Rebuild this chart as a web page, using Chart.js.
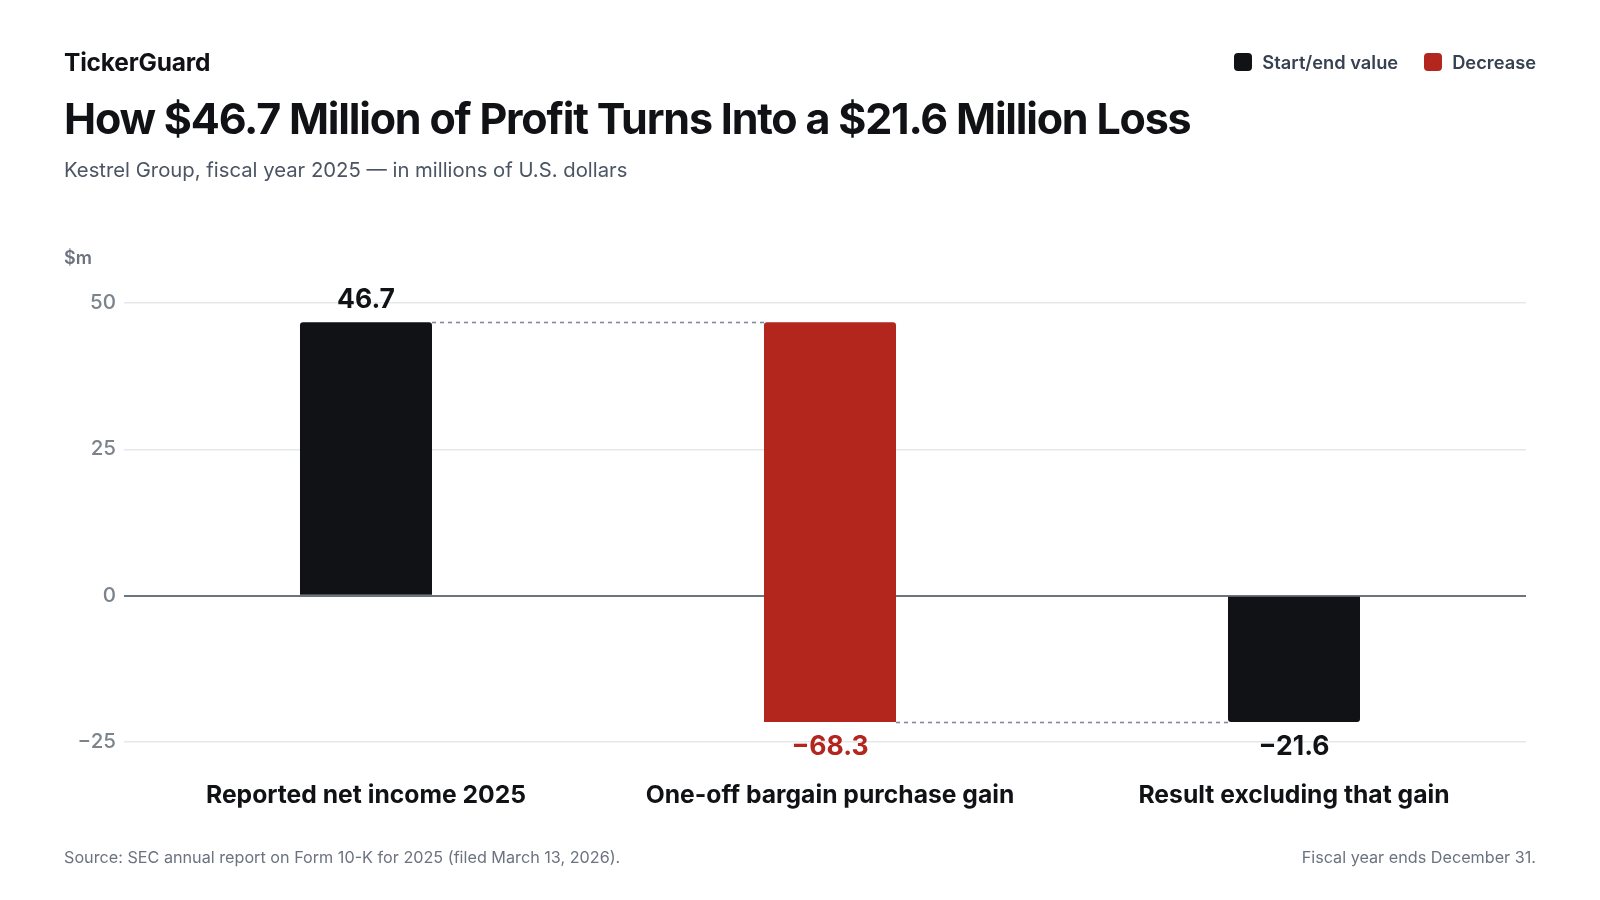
<!DOCTYPE html>
<html>
<head>
<meta charset="utf-8">
<script src="https://cdn.jsdelivr.net/npm/chart.js@4.4.1/dist/chart.umd.min.js"></script>
<style>
  html, body { margin: 0; padding: 0; background: #fff; }
  body { width: 1600px; height: 900px; position: relative; overflow: hidden; font-family: Inter, "Noto Sans", sans-serif; }
  #chartWrap { position: absolute; left: 0; top: 0; width: 1600px; height: 900px; }
  .brand { position: absolute; left: 64px; top: 47px; font-size: 24.5px; font-weight: 700; color: #111216; letter-spacing: -0.2px; }
  .title { position: absolute; left: 64px; top: 92px; font-size: 43px; font-weight: 700; color: #111216; letter-spacing: -1.2px; }
  .subtitle { position: absolute; left: 64px; top: 157px; font-size: 20.3px; color: #4b5563; }
  .unit { position: absolute; left: 64px; top: 247px; font-size: 18px; font-weight: 600; color: #6b7280; }
  .legend { position: absolute; right: 64px; top: 51px; display: flex; gap: 26px; font-size: 18.3px; font-weight: 600; color: #374151; }
  .legend span { display: flex; align-items: center; gap: 10px; }
  .legend i { width: 18px; height: 18px; border-radius: 4px; display: inline-block; }
  .footer { position: absolute; top: 847px; font-size: 16.2px; color: #6b7280; }
</style>
</head>
<body>
<div id="chartWrap"><canvas id="waterfall"></canvas></div>
<div class="brand">TickerGuard</div>
<div class="title">How $46.7 Million of Profit Turns Into a $21.6 Million Loss</div>
<div class="subtitle">Kestrel Group, fiscal year 2025 — in millions of U.S. dollars</div>
<div class="unit">$m</div>
<div class="legend">
  <span><i style="background:#111216"></i>Start/end value</span>
  <span><i style="background:#b3261e"></i>Decrease</span>
</div>
<div class="footer" style="left:64px">Source: SEC annual report on Form 10-K for 2025 (filed March 13, 2026).</div>
<div class="footer" style="right:64px">Fiscal year ends December 31.</div>

<script>
// Chart data
const categories = ['Reported net income 2025', 'One-off bargain purchase gain', 'Result excluding that gain'];
const barStarts = [0, 46.7, 0];
const barEnds = [46.7, -21.6, -21.6];
const changeLabels = [46.7, -68.3, -21.6];
const barKinds = ['total', 'decrease', 'total'];
const yTicks = [-25, 0, 25, 50];

const colors = { total: '#111216', decrease: '#b3261e' };

function fmt(v) {
    return String(v).replace('-', '\u2212');
}

// Dashed connectors and value labels
const waterfallExtras = {
    id: 'waterfallExtras',
    afterDatasetsDraw(chart) {
        const ctx = chart.ctx;
        const meta = chart.getDatasetMeta(0);
        const y = chart.scales.y;

        ctx.save();
        ctx.strokeStyle = '#838a94';
        ctx.lineWidth = 1.6;
        ctx.setLineDash([4, 4]);
        for (let i = 0; i < meta.data.length - 1; i++) {
            const a = meta.data[i];
            const b = meta.data[i + 1];
            const py = Math.round(y.getPixelForValue(barEnds[i])) + 0.5;
            ctx.beginPath();
            ctx.moveTo(a.x + a.width / 2, py);
            ctx.lineTo(b.x - b.width / 2, py);
            ctx.stroke();
        }
        ctx.setLineDash([]);

        ctx.font = '700 26.5px Inter';
        ctx.textAlign = 'center';
        ctx.textBaseline = 'alphabetic';
        meta.data.forEach((bar, i) => {
            const up = barEnds[i] >= barStarts[i];
            const py = y.getPixelForValue(barEnds[i]);
            ctx.fillStyle = barKinds[i] === 'decrease' ? colors.decrease : '#111216';
            ctx.fillText(fmt(changeLabels[i]), bar.x, up ? py - 14 : py + 32.5);
        });
        ctx.restore();
    }
};

const ctxBar = document.getElementById('waterfall').getContext('2d');
const waterfallChart = new Chart(ctxBar, {
    type: 'bar',
    data: {
        labels: categories,
        datasets: [{
            data: barStarts.map((s, i) => [s, barEnds[i]]),
            backgroundColor: barKinds.map(k => colors[k]),
            barPercentage: 0.2845,
            categoryPercentage: 1,
            borderRadius: 3,
            borderSkipped: 'start'
        }]
    },
    options: {
        responsive: true,
        maintainAspectRatio: false,
        animation: false,
        layout: { padding: { top: 303, right: 74, bottom: 0, left: 0 } },
        plugins: {
            legend: { display: false },
            tooltip: { enabled: false }
        },
        scales: {
            x: {
                grid: { display: false, drawTicks: false },
                border: { display: false },
                ticks: {
                    color: '#111216',
                    font: { family: 'Inter', size: 24.7, weight: '700' },
                    padding: 39,
                    maxRotation: 0
                },
                afterFit(scale) { scale.height = 158; }
            },
            y: {
                min: -25,
                max: 50,
                afterBuildTicks(scale) { scale.ticks = yTicks.map(v => ({ value: v })); },
                grid: {
                    color: c => c.tick && c.tick.value === 0 ? '#6b7580' : '#e5e7eb',
                    lineWidth: c => c.tick && c.tick.value === 0 ? 2 : 1.5,
                    tickLength: 10
                },
                border: { display: false },
                ticks: {
                    color: '#7b838c',
                    font: { family: 'Inter', size: 20.5, weight: '500' },
                    padding: 8,
                    callback: v => fmt(v)
                },
                afterFit(scale) { scale.width = 134; }
            }
        }
    },
    plugins: [waterfallExtras]
});
</script>
</body>
</html>
